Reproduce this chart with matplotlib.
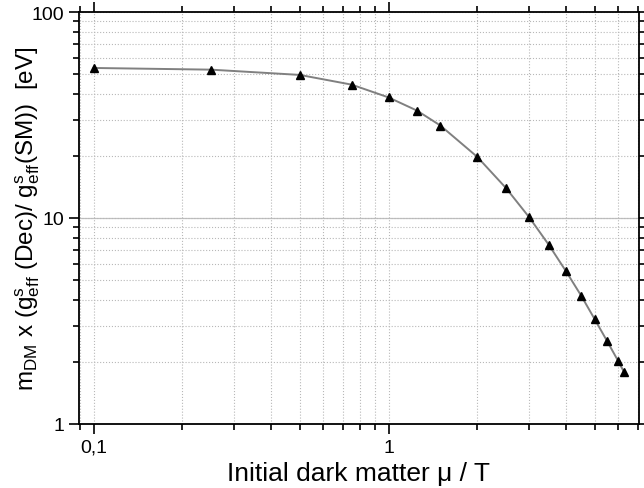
import matplotlib
matplotlib.use("Agg")
import matplotlib.pyplot as plt
from matplotlib.ticker import FixedLocator, FixedFormatter, LogLocator, NullFormatter

plt.rcParams['font.family'] = ['Liberation Sans', 'DejaVu Sans']
plt.rcParams['mathtext.fontset'] = 'custom'
plt.rcParams['mathtext.rm'] = 'Liberation Sans'
plt.rcParams['mathtext.it'] = 'Liberation Sans:italic'

# data
mu_over_T = [0.1, 0.25, 0.5, 0.75, 1.0, 1.25, 1.5, 2.0, 2.5, 3.0, 3.5,
             4.0, 4.5, 5.0, 5.5, 6.0, 6.3]
mass_ratio = [53.5, 52.5, 49.5, 44.4, 38.5, 33.2, 28.1, 19.8, 14.0, 10.08,
              7.39, 5.51, 4.20, 3.23, 2.54, 2.03, 1.78]

xticks = [0.1, 1]
xtick_labels = ['0,1', '1']
yticks = [1, 10, 100]
ytick_labels = ['1', '10', '100']

fig = plt.figure(figsize=(6.44, 4.89), dpi=100)
ax = fig.add_axes([0.1227, 0.1309, 0.8695, 0.8425])

ax.plot(mu_over_T, mass_ratio, color='#808080', lw=1.4, marker='^',
        mfc='black', mec='black', ms=6, zorder=3)

ax.set_xscale('log')
ax.set_yscale('log')
ax.set_xlim(0.0892, 7.07)
ax.set_ylim(1, 100)

ax.xaxis.set_major_locator(FixedLocator(xticks))
ax.xaxis.set_major_formatter(FixedFormatter(xtick_labels))
ax.yaxis.set_major_locator(FixedLocator(yticks))
ax.yaxis.set_major_formatter(FixedFormatter(ytick_labels))
for axis in (ax.xaxis, ax.yaxis):
    axis.set_minor_locator(LogLocator(base=10, subs=range(2, 10)))
    axis.set_minor_formatter(NullFormatter())

ax.grid(True, which='both', color='#b8b8b8', ls=':', lw=0.8)
ax.axhline(10, color='#c0c0c0', lw=0.9, zorder=1)

ax.tick_params(which='both', direction='out', top=True, right=True,
               width=1.2, labelsize=14)
ax.tick_params(which='major', length=7)
ax.tick_params(which='minor', length=4)
for s in ax.spines.values():
    s.set_linewidth(1.3)

ax.set_xlabel('Initial dark matter μ / T', fontsize=19, labelpad=4)
ax.set_ylabel(r'm$_{\rm DM}$ x (g$^{\rm s}_{\rm eff}$ (Dec)/ g$^{\rm s}_{\rm eff}$(SM))  [eV]',
              fontsize=17.5, va='center')
ax.yaxis.set_label_coords(-0.092, 0.5)

fig.savefig('out.png', dpi=100)
